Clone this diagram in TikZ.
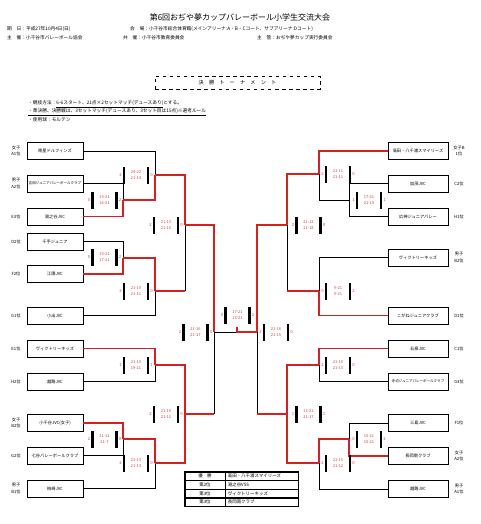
\documentclass[tikz,border=0pt]{standalone}
\usepackage{fontspec}
\setmainfont{Noto Sans CJK JP}
\usetikzlibrary{shadows,calc}
\definecolor{winred}{HTML}{D42222}
\definecolor{scorered}{HTML}{C8464A}
\newcommand{\pxu}{0.85pt}
\tikzset{
  team/.style={draw,line width=0.6pt,fill=white,minimum width=56*\pxu,
               minimum height=17*\pxu,inner sep=0pt,font=\fontsize{3.6}{4.3}\selectfont,
               drop shadow={shadow xshift=0.5pt,shadow yshift=-0.7pt,opacity=1,fill=black}},
  rteam/.style={team,minimum width=60*\pxu},
  longname/.style={font=\fontsize{3.0}{4}\selectfont},
  rank/.style={align=center,inner sep=0pt,font=\fontsize{3.6}{5.6}\selectfont},
  wire/.style={line width=0.7pt,black},
  win/.style={line width=1.45pt,winred},
  scoretxt/.style={align=center,inner sep=0pt,text=scorered,font=\fontsize{3.4}{5.4}\selectfont},
  scorenum/.style={inner sep=0pt,text=scorered,font=\fontsize{3.6}{4}\selectfont},
  scorebar/.style={fill=black,inner sep=0pt,minimum width=1.8pt,minimum height=17*\pxu},
  headtxt/.style={anchor=west,inner sep=0pt,font=\fontsize{4}{5}\selectfont},
  titlebox/.style={draw,dashed,line width=0.6pt,minimum width=165*\pxu,
                   minimum height=13*\pxu,font=\fontsize{4.4}{5}\selectfont},
  cellA/.style={draw,line width=0.4pt,minimum width=40*\pxu,minimum height=8.25*\pxu,
                inner sep=0pt,font=\fontsize{3.8}{4}\selectfont},
  cellB/.style={draw,line width=0.4pt,minimum height=8.25*\pxu,text width=58pt,
                inner xsep=2pt,inner ysep=0pt,align=left,font=\fontsize{3.8}{4}\selectfont},
}
% score group: name, x, y, left, set 1, set 2, right
\newcommand{\scorebox}[7]{%
  \node[scoretxt] (#1) at (#2,#3) {#5\\#6};
  \node[scorebar] (#1-a) at ({#2-12},#3) {};
  \node[scorebar] (#1-b) at ({#2+12},#3) {};
  \node[scorenum] (#1-l) at ({#2-15.5},#3) {#4};
  \node[scorenum] (#1-r) at ({#2+15.5},#3) {#7};}

\begin{document}
\begin{tikzpicture}[x=0.85pt,y=-0.85pt]
  \useasboundingbox (0,0) rectangle (480,524);
  % header
  \node[font=\fontsize{6.8}{8}\selectfont] (title) at (240,17) {第6回おぢや夢カップバレーボール小学生交流大会};
  \node[headtxt] (date) at (7,29) {期　日：平成27年10月4日(日)};
  \node[headtxt] (venue) at (130,29) {会　場：小千谷市総合体育館(メインアリーナ:A・B・Cコート、サブアリーナ:Dコート)};
  \node[headtxt] (host) at (7,38) {主　催：小千谷市バレーボール協会};
  \node[headtxt] (cohost) at (123,38) {共　催：小千谷市教育委員会};
  \node[headtxt] (org) at (257,38) {主　管：おぢや夢カップ実行委員会};
  \node[titlebox] (ttl) at (237.5,82.5) {決　勝　ト　ー　ナ　メ　ン　ト};
  \node[headtxt] (rule1) at (28,104) {・競技方法：\underline{6-6スタート、21点×2セットマッチ(デュースあり)}とする。};
  \node[headtxt] (rule2) at (28,112) {\underline{・準決勝、決勝戦は、3セットマッチ(デュースあり、3セット目は15点)※選考ルール}};
  \node[headtxt] (rule3) at (28,120) {・使用球：モルテン};

  % left teams
  \node[team] (l1) at (55,151) {南星ドルフィンズ};
  \node[team,longname] (l2) at (55,183.5) {吉田ジュニアバレーボールクラブ};
  \node[team] (l3) at (55,216.5) {湯之谷JVC};
  \node[team] (l4) at (55,241.5) {千手ジュニア};
  \node[team] (l5) at (55,274) {江陽JVC};
  \node[team] (l6) at (55,315.5) {小出JVC};
  \node[team] (l7) at (55,348.5) {ヴィクトリーキッズ};
  \node[team] (l8) at (55,381.5) {越路JVC};
  \node[team] (l9) at (55,423) {小千谷JVC(女子)};
  \node[team] (l10) at (55,455.5) {七谷バレーボールクラブ};
  \node[team] (l11) at (55,488.5) {柏崎JVC};
  \node[rank] (la1) at (16,151) {女子\\A1位};
  \node[rank] (la2) at (16,183.5) {男子\\A2位};
  \node[rank] (la3) at (16,216.5) {E3位};
  \node[rank] (la4) at (16,241.5) {D2位};
  \node[rank] (la5) at (16,274) {F2位};
  \node[rank] (la6) at (16,315.5) {G1位};
  \node[rank] (la7) at (16,348.5) {E1位};
  \node[rank] (la8) at (16,381.5) {H2位};
  \node[rank] (la9) at (16,423) {女子\\B2位};
  \node[rank] (la10) at (16,455.5) {G2位};
  \node[rank] (la11) at (16,488.5) {男子\\B1位};

  % right teams
  \node[rteam] (r1) at (418,151) {高田・八千浦スマイリーズ};
  \node[rteam] (r2) at (418,183.5) {加茂JVC};
  \node[rteam] (r3) at (418,216.5) {広神ジュニアバレー};
  \node[rteam] (r4) at (418,257.5) {ヴィクトリーキッズ};
  \node[rteam] (r5) at (418,315.5) {こがねジュニアクラブ};
  \node[rteam] (r6) at (418,348.5) {五泉JVC};
  \node[rteam,longname] (r7) at (418,381.5) {寺泊ジュニアバレーボールクラブ};
  \node[rteam] (r8) at (418,423) {三島JVC};
  \node[rteam] (r9) at (418,456) {長岡南クラブ};
  \node[rteam] (r10) at (418,489) {越路JVC};
  \node[rank] (ra1) at (459,151) {女子B\\1位};
  \node[rank] (ra2) at (459,183.5) {C2位};
  \node[rank] (ra3) at (459,216.5) {H1位};
  \node[rank] (ra4) at (459,257.5) {男子\\B2位};
  \node[rank] (ra5) at (459,315.5) {D1位};
  \node[rank] (ra6) at (459,348.5) {C1位};
  \node[rank] (ra7) at (459,381.5) {G3位};
  \node[rank] (ra8) at (459,423) {F1位};
  \node[rank] (ra9) at (459,456) {女子\\A2位};
  \node[rank] (ra10) at (459,489) {男子\\A1位};

  % match points
  \coordinate (m1) at (123,200);  \coordinate (m2) at (155,175);
  \coordinate (m3) at (123,258);  \coordinate (m4) at (155,291);
  \coordinate (m5) at (185,225);  \coordinate (m6) at (185,414);
  \coordinate (m7) at (155,365);  \coordinate (m8) at (123,439);
  \coordinate (m9) at (155,463);  \coordinate (sf1) at (214,332);
  \coordinate (n1) at (349,200);  \coordinate (n2) at (319,174);
  \coordinate (n3) at (287,225);  \coordinate (n4) at (319,291);
  \coordinate (n5) at (319,365);  \coordinate (n6) at (349,439);
  \coordinate (n7) at (319,463);  \coordinate (n8) at (287,414);
  \coordinate (sf2) at (257,332);
  \coordinate (fin) at (237,332); \coordinate (champ) at (237,327);

  % lost lines
  \draw[wire] (l2.east) -| (m1);
  \draw[wire] (l1.east) -| (m2);
  \draw[wire] (l4.east) -| (m3);
  \draw[wire] (l6.east) -| (m4);
  \draw[wire] (m4 -| m5) -- (m5);
  \draw[wire] (l8.east) -| (m7);
  \draw[wire] (l10.east) -| (m8);
  \draw[wire] (l11.east) -| (m9);
  \draw[wire] (m6 -| sf1) -- (sf1);
  \draw[wire] (sf1) -- (fin);
  \draw[wire] (r2.west) -| (n1);
  \draw[wire] (r3.west) -| (n1);
  \draw[wire] (n1) -| (n2);
  \draw[wire] (r4.west) -| (n4);
  \draw[wire] (n4 -| n3) -- (n3);
  \draw[wire] (r7.west) -| (n5);
  \draw[wire] (r8.west) -| (n6);
  \draw[wire] (r10.west) -| (n7);
  \draw[wire] (n8 -| sf2) -- (sf2);

  % winning lines
  \draw[win] (l3.east) -| (m1);
  \draw[win] (m1) -| (m2);
  \draw[win] (l5.east) -| (m3);
  \draw[win] (m3) -| (m4);
  \draw[win] (m2) -| (m5);
  \draw[win] (m4) -- (m4 -| m5);
  \draw[win] (l7.east) -| (m7);
  \draw[win] (l9.east) -| (m8);
  \draw[win] (m8) -| (m9);
  \draw[win] (m7) -| (m6);
  \draw[win] (m9) -| (m6);
  \draw[win] (m5) -| (sf1);
  \draw[win] (m6) -- (m6 -| sf1);
  \draw[win] (r1.west) -| (n2);
  \draw[win] (r5.west) -| (n4);
  \draw[win] (n2) -| (n3);
  \draw[win] (n4) -- (n4 -| n3);
  \draw[win] (r6.west) -| (n5);
  \draw[win] (r9.west) -| (n6);
  \draw[win] (n6) -| (n7);
  \draw[win] (n5) -| (n8);
  \draw[win] (n7) -| (n8);
  \draw[win] (n3) -| (sf2);
  \draw[win] (n8) -- (n8 -| sf2);
  \draw[win] (sf2) -- (fin) -- (champ);

  % scores
  \scorebox{s1}{104.5}{200}{0}{19-21}{16-21}{2}
  \scorebox{s2}{136}{175}{2}{24-22}{21-14}{0}
  \scorebox{s3}{104.5}{257}{0}{19-21}{17-21}{2}
  \scorebox{s4}{136}{291}{2}{21-19}{21-11}{0}
  \scorebox{s5}{166}{225}{2}{21-13}{21-15}{0}
  \scorebox{s7}{136}{365}{1}{21-10}{19-21}{1}
  \scorebox{s8}{104.5}{439}{2}{21-12}{21-7}{0}
  \scorebox{s9}{136}{463}{2}{21-13}{21-13}{0}
  \scorebox{s6}{166}{414}{2}{21-19}{21-11}{0}
  \scorebox{sl}{195.5}{332}{2}{21-16}{21-17}{0}
  \scorebox{sf}{237.5}{315}{0}{17-21}{13-21}{2}
  \scorebox{sr}{276}{332}{2}{21-16}{21-15}{0}
  \scorebox{t3}{308.5}{225}{2}{21-12}{21-18}{0}
  \scorebox{t2}{338}{174}{2}{21-11}{21-11}{0}
  \scorebox{t1}{369}{200}{1}{17-21}{21-19}{1}
  \scorebox{t4}{338}{291}{0}{9-21}{9-21}{2}
  \scorebox{t5}{338}{365}{2}{21-10}{21-13}{0}
  \scorebox{t8}{308.5}{414}{1}{13-21}{21-17}{1}
  \scorebox{t6}{369}{439}{0}{15-21}{15-21}{2}
  \scorebox{t7}{338}{463}{2}{21-15}{21-12}{0}

  % results
  \node[cellA] (p1) at (205,476.1) {優　勝};
  \node[cellB,anchor=west] (q1) at (p1.east) {高田・八千浦スマイリーズ};
  \node[cellA,anchor=north] (p2) at (p1.south) {第2位};
  \node[cellB,anchor=west] (q2) at (p2.east) {湯之谷VSS};
  \node[cellA,anchor=north] (p3) at (p2.south) {第3位};
  \node[cellB,anchor=west] (q3) at (p3.east) {ヴィクトリーキッズ};
  \node[cellA,anchor=north] (p4) at (p3.south) {第3位};
  \node[cellB,anchor=west] (q4) at (p4.east) {長岡南クラブ};
  \draw[line width=0.8pt] (p1.north west) rectangle (q4.south east);
\end{tikzpicture}
\end{document}
